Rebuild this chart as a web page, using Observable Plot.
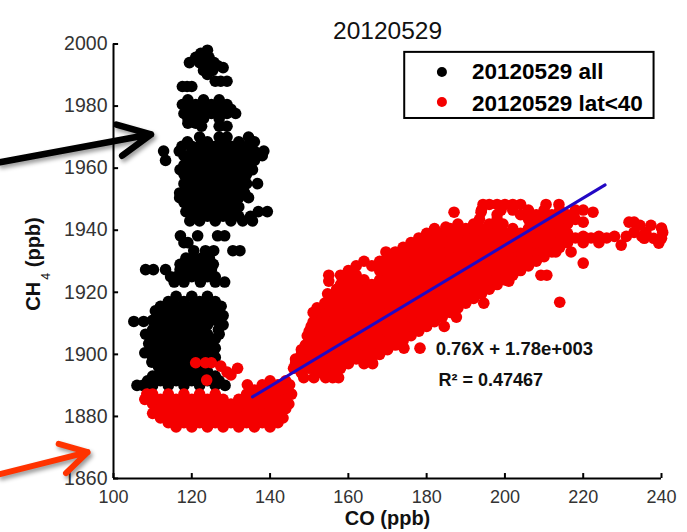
<!DOCTYPE html>
<html><head><meta charset="utf-8">
<script src="https://cdn.jsdelivr.net/npm/d3@7"></script>
<script src="https://cdn.jsdelivr.net/npm/@observablehq/plot@0.6"></script>
<style>html,body{margin:0;padding:0;background:#fff}svg{display:block;font-family:"Liberation Sans",Arial,sans-serif}</style>
</head><body><div id="chart"></div>
<script>
const xTicks=[100,120,140,160,180,200,220,240];
const yTicks=[1860,1880,1900,1920,1940,1960,1980,2000];
const titleText="20120529";
const xLabel="CO (ppb)";
const legendLabels=["20120529 all","20120529 lat<40"];
const fitLine=[[135.5,1886.3],[225.6,1954.6]];
const fitText="0.76X + 1.78e+003";
const r2Text="R² = 0.47467";
// rows: [CH4, [CO values read at that level]]
const blackTop=[
[1998,[124]],[1997,[122.3]],[1995.7,[121,124.4]],[1994,[125.7,123.5,119.4,122]],[1993,[126.6]],[1992.4,[128,124]],[1991.5,[125.3,123]],[1990.2,[124]],
[1988,[129,127.4,126]],[1986.3,[117.6,118.8,120]],
[1982,[119,123,127]],[1980.5,[117.6,121,125,129]],[1979,[119,123,127,130]],[1977.6,[118,121,125,129,131.2]],[1976,[119,123,127]],[1974.5,[119,121]],[1973.5,[122.5,127,129]]
];
const blackUpper=[
[1970,[122,127,129,134.5]],[1968.5,[118.9,124,128,132,136]],[1967,[117.5,120,122,126,130,134]],
[1965.5,[112.8,116.8,120,124,128,132,136,138.4]],[1964,[118,122,126,130,134,138]],[1962.5,[113.3,120,124,128,132,136]],
[1961,[118,122,126,130,134]],[1959.5,[117,120,124,128,132,135.5]],[1958,[118,122,126,130,134]],
[1956.5,[120,124,128,132]],[1955,[118,122,126,130,134,136.8]],[1953.5,[120,124,128,132]],
[1952,[116.9,118.5,122,126,130,133.5]],[1950.5,[116.9,120,124,128,132,134.5]],[1949,[118,122,126,130]],
[1947.5,[120,124,128,132]],[1946,[118.5,122,126,130,137,139.3]],[1944.5,[120,124,128,132,135]],
[1943,[119.5,122,126,130,133,135.5]]
];
const blackMiddle=[
[1938.2,[117.1,121.5,126.6,128.4]],[1936,[118,119]],
[1933.4,[120.5,123.5,125.6,130.5,132.3]],[1931,[118.5,120.5,122.5,124.5]],
[1929,[117,119,121,123,125.5]],[1927.3,[108.2,110.2,113.3,117,119,121,123,125]],
[1925,[114.6,116,118,120,122,124,126]],[1923.3,[115.5,118,122.2,126,128.4]]
];
const blackLower=[
[1918.7,[116,120,124]],[1917,[114,118,122,126]],[1915.5,[112,116,120,124,127.5]],
[1914,[110.7,114,118,122,126]],[1912.5,[112,116,120,124,128]],[1911,[110,114,118,122,126]],
[1910.6,[105.2,107.7]],[1909.5,[112,116,120,124,128]],[1908,[110,114,118,122,126.8]],
[1906.5,[108.2,112,116,120,124,127]],[1905,[110,114,118,122,126]],[1903.5,[109,112,116,120,124]],
[1902,[110,114,118,122,126]],[1900.5,[108,112,116,120,124]],[1899,[110,114,118,122,126]],
[1897.5,[109.8,112,116,120,124]],[1896,[111.5,114,118,122]],[1894.5,[112,116,120,124]],
[1893,[110,114,118,122,126]],[1891.5,[108.7,112,116,120,124,127]],
[1890,[106,107.5,110,114,118,122,126,128.5]]
];
const redBase=[
[1891.5,[140,144]],[1890.2,[134.2,138,142,145]],[1888.5,[136,140,144]],
[1887.2,[108.5,110,114,118,122,126,134,138,142,145.5]],
[1885.5,[108,112,116,120,124,128,132,136,140,144]],
[1884,[110,114,118,122,126,130,134,138,142,144.8]],
[1882.5,[112,116,120,124,128,132,136,140,144]],
[1881,[110,114,118,122,126,130,134,138,142]],
[1879.5,[112,116,120,124,128,132,136,140,143.3]],
[1878,[114,118,122,126,130,134,138,142]],
[1876.6,[116,120,124,128,132,136,140]]
];
const redCluster=[
[1897.3,[121,123.5,125]],[1896.2,[127.4]],[1895.5,[131.7]],[1894.3,[129]],[1893.4,[130]],[1891.7,[123.8]]
];
const redBand=[
[1892.5,[148.6,151.2,154.2,156,157.5]],
[1894,[148,152,156]],[1895.5,[146,150,154,158]],
[1897,[146.5,148,152,156,160,164,166.2]],[1898.5,[146.5,150,154,158,162,166]],
[1900,[148,152,156,160,164,168]],[1901.5,[148,150,154,158,162,166,170]],
[1902,[174.2,178.3]],[1903,[149,152,156,160,164,168,172]],
[1904.5,[150,154,158,162,166,170,174]],[1906,[149.5,152,156,160,164,168,172,176]],
[1907.5,[150,154,158,162,166,170,174,178]],[1909,[150.5,152,156,160,164,168,172,176,180,184.5]],
[1910.5,[151,154,158,162,166,170,174,178,182]],[1912,[152,156,160,164,168,172,176,180,184,187.6]],
[1913.5,[151,154,158,162,166,170,174,178,182,186]],[1915,[152,156,160,164,168,172,176,180,184,188]],
[1916.5,[154,158,162,166,170,174,178,182,186,190,194.6]],[1918,[156,160,164,168,172,176,180,184,188,192]],
[1919.5,[154.7,158,162,166,170,174,178,182,186,190,194]],[1921,[157,160,164,168,172,176,180,184,188,192,196]],
[1922.5,[158,162,166,170,174,178,182,186,190,194,198]],[1923.6,[155,201]],
[1924,[160,164,168,172,176,180,184,188,192,196,200]],
[1925.5,[155,158,162,170,174,178,182,186,190,194,198,202,209.2,210.7]],
[1927,[160,168,172,176,180,184,188,192,196,200,204]],
[1928.5,[162,166,170,174,178,182,186,190,194,198,202,206]],
[1929.4,[220]],[1930,[164,168,172,176,180,184,188,192,196,200,204,208]],
[1931.5,[170,174,178,182,186,190,194,198,202,206,210]],
[1933,[169.6,172,176,180,184,188,192,196,200,204,208,212,216.9]],
[1934.5,[174,178,182,186,190,194,198,202,206,210,214]],
[1936,[176,180,184,188,192,196,200,204,208,212,216,220,224]],
[1937.5,[178,182,186,190,194,198,202,206,210,214,218,222,226]],
[1938,[220,224,228,231]],
[1939,[180,184,188,192,196,200,204,208,212,216]],
[1940.5,[182,186,190,194,198,202,206,210,214]],
[1941,[184.9]],[1942,[188,192,196,199.5,208,212,216]],[1942.6,[220]],
[1943.5,[193.5,198,206,210,214,218]],
[1945,[198,204,208,212,216]],[1945.8,[187,193.9,222.5]],
[1946.5,[194,199,202,206,210,214,218,220]],
[1948.3,[194.4,196,198,200,202,204,210.5,213.8]]
];
const redTail=[
[1942.6,[233,231.7]],[1941.6,[234.5,237.3]],[1940.7,[240]],[1939.3,[233,236,240.3]],[1938,[235]],
[1937.4,[235.6,238,240]],[1935.8,[239.3]],[1935.2,[229.7]],[1933,[213]],[1930.3,[208]],[1916.8,[214]]
];

const expand=rows=>rows.flatMap(([y,xs])=>xs.map(x=>({co:x,ch4:y})));
const black=[...expand(blackTop),...expand(blackUpper),...expand(blackMiddle),...expand(blackLower)];
const red=[...expand(redBase),...expand(redCluster),...expand(redBand),...expand(redTail)];
const dotR=5.8;
const font=(s,w)=>({fontSize:s,fontWeight:w||"normal",fontFamily:"Liberation Sans"});
const blackArrow=[{x1:71,y1:1961.9,x2:109.6,y2:1970.9}];
const redArrow=[{x1:71,y1:1861.4,x2:93.4,y2:1868.5}];
const legendBox=[{x1:174.4,x2:238.1,y1:1976,y2:1997.3}];
const legendDots=[{y:1991,c:"black"},{y:1981.3,c:"#f40000"}];
const legendTexts=[{lab:legendLabels[0],y:1991},{lab:legendLabels[1],y:1980.7}];
const shadow="drop-shadow(2px 3px 2px rgba(0,0,0,.4))";

const chart=Plot.plot({
 width:687,height:532,marginLeft:113,marginRight:26,marginTop:43.5,marginBottom:54,
 x:{domain:[100,240]},y:{domain:[1860,2000]},
 style:{background:"#fff",fontFamily:"Liberation Sans"},
 marks:[
  Plot.dot(black,{x:"co",y:"ch4",r:dotR,fill:"black"}),
  Plot.dot(red,{x:"co",y:"ch4",r:dotR,fill:"#f40000"}),
  Plot.line(fitLine,{x:d=>d[0],y:d=>d[1],stroke:"#2208c4",strokeWidth:3}),
  Plot.ruleX([100],{y1:1860,y2:2000,stroke:"black",strokeWidth:2}),
  Plot.ruleY([1860],{x1:100,x2:240,stroke:"black",strokeWidth:2}),
  Plot.ruleX(xTicks,{y1:1860,y2:1861.6,stroke:"black",strokeWidth:2}),
  Plot.ruleY(yTicks,{x1:100,x2:101.3,stroke:"black",strokeWidth:2}),
  Plot.axisX(xTicks,{tickSize:0,tickPadding:12,label:null,tickFormat:d3.format("d"),fill:"#333",fontSize:18}),
  Plot.axisY(yTicks,{tickSize:0,tickPadding:6,label:null,tickFormat:d3.format("d"),fill:"#333",fontSize:19.5}),
  Plot.text([titleText],{frameAnchor:"top",dy:-22,fill:"#111",...font(24.5)}),
  Plot.text([xLabel],{frameAnchor:"bottom",lineAnchor:"middle",dy:40,fill:"#111",...font(20,"bold")}),
  Plot.text(["CH"],{frameAnchor:"left",textAnchor:"middle",dx:-80,dy:35,rotate:-90,fill:"#111",...font(20,"bold")}),
  Plot.text(["4"],{frameAnchor:"left",textAnchor:"middle",dx:-68,dy:15,rotate:-90,fill:"#111",...font(12.5)}),
  Plot.text(["(ppb)"],{frameAnchor:"left",textAnchor:"middle",dx:-80,dy:-19,rotate:-90,fill:"#111",...font(20,"bold")}),
  Plot.text([fitText],{x:()=>182.3,y:()=>1901.8,textAnchor:"start",fill:"#111",...font(18.5,"bold")}),
  Plot.text([r2Text],{x:()=>183,y:()=>1891.8,textAnchor:"start",fill:"#111",...font(18,"bold")}),
  Plot.rect(legendBox,{x1:"x1",x2:"x2",y1:"y1",y2:"y2",fill:"white",stroke:"black",strokeWidth:2}),
  Plot.dot(legendDots,{x:()=>183.9,y:"y",r:5,fill:"c"}),
  Plot.text(legendTexts,{x:()=>191.6,y:"y",text:"lab",textAnchor:"start",fill:"#000",...font(22.5,"bold")}),
  Plot.arrow(blackArrow,{x1:"x1",y1:"y1",x2:"x2",y2:"y2",stroke:"black",strokeWidth:6.5,headLength:8.3,headAngle:52,imageFilter:shadow}),
  Plot.arrow(redArrow,{x1:"x1",y1:"y1",x2:"x2",y2:"y2",stroke:"#ff3300",strokeWidth:6,headLength:22,headAngle:60,imageFilter:shadow})
 ]
});
document.getElementById("chart").appendChild(chart);
</script></body></html>
